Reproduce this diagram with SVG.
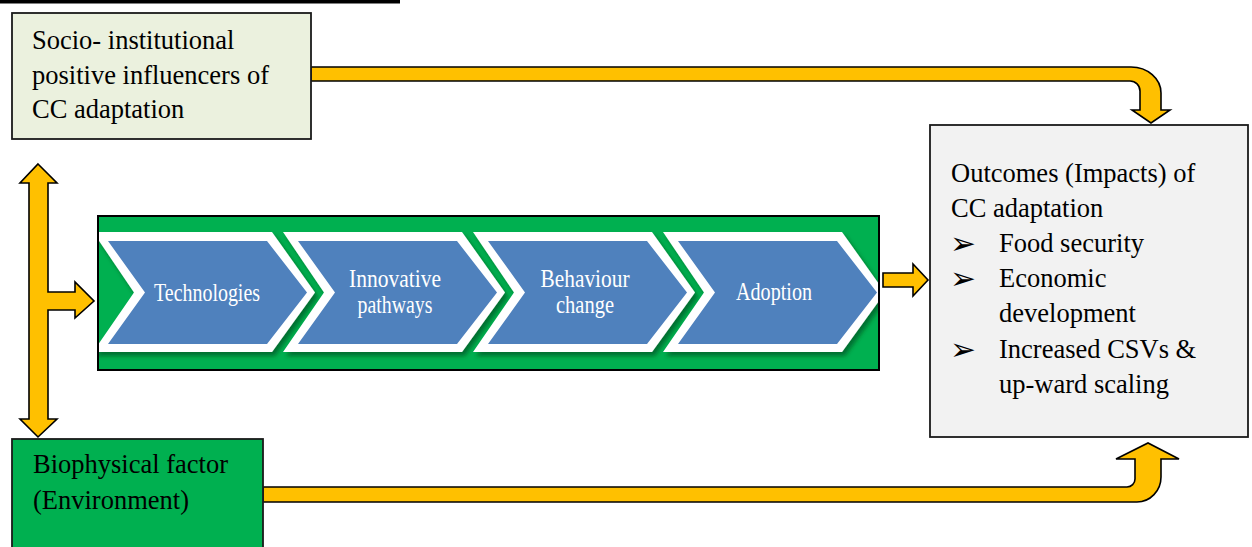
<svg xmlns="http://www.w3.org/2000/svg" width="1252" height="547" viewBox="0 0 1252 547">
  <style>
    .box { stroke: #1a1a1a; stroke-width: 1.8; }
    .lbl { font-family: 'Liberation Serif', 'DejaVu Serif', serif; font-size: 26.5px; fill: #000; }
    .bul { font-family: 'DejaVu Sans', sans-serif; font-size: 31px; fill: #000; }
    .chev-out { fill: #ffffff; }
    .chev-in { fill: #4f81bd; }
    .ctext { font-family: 'Liberation Serif', 'DejaVu Serif', serif; font-size: 25px; fill: #ffffff; text-anchor: middle; }
    .arrow { fill: #ffc000; stroke: #000; stroke-width: 1.6; stroke-linejoin: miter; }
  </style>
  <defs>
    <filter id="shadow" x="-10%" y="-10%" width="130%" height="140%">
      <feDropShadow dx="3" dy="4" stdDeviation="2" flood-color="#003a14" flood-opacity="0.55"/>
    </filter>
    <clipPath id="procClip">
      <rect x="99" y="217" width="779" height="152"/>
    </clipPath>
  </defs>

  <rect x="0" y="0" width="400" height="3.5" fill="#000"/>

  <g id="connectors">
    <path class="arrow" d="M311,67 H1131 A30,26 0 0 1 1161,93 V110 H1170 L1151,123 L1132,110 H1140 V91 A10,10 0 0 0 1130,81 H311 Z"/>
    <path class="arrow" d="M263,487 H1127 A8,8 0 0 0 1135,479 V459 H1116 L1148,443 L1179,459 H1161 V477 A24,25 0 0 1 1137,502 H263 Z"/>
    <path class="arrow" d="M38,164 L57,183 H48 V292 H75 V282 L94,301 L75,318 V310 H48 V419 H57 L38,437 L20,419 H29 V183 H20 Z"/>
    <path class="arrow" d="M883,273 H913 V264 L928,280 L913,296 V287 H883 Z"/>
  </g>

  <g id="node-socio">
    <rect class="box" x="12" y="13" width="299" height="126" fill="#ebf1de"/>
    <text class="lbl" x="32" y="49">Socio- institutional</text>
    <text class="lbl" x="32" y="84">positive influencers of</text>
    <text class="lbl" x="32" y="118">CC adaptation</text>
  </g>

  <g id="node-process">
    <rect x="98" y="216" width="781" height="154" fill="#00b050" stroke="#000" stroke-width="2"/>
    <g clip-path="url(#procClip)">
      <g id="chevron-technologies">
        <polygon class="chev-out" filter="url(#shadow)" points="93,232 272,232 315,292.5 272,352 93,352 134,292.5"/>
        <polygon class="chev-in" points="108,241 267,241 307,292.5 267,344 108,344 145,292.5"/>
        <text class="ctext" x="207" y="301" textLength="106" lengthAdjust="spacingAndGlyphs">Technologies</text>
      </g>
      <g id="chevron-innovative">
        <polygon class="chev-out" filter="url(#shadow)" points="283,232 462,232 505,292.5 462,352 283,352 324,292.5"/>
        <polygon class="chev-in" points="298,241 457,241 497,292.5 457,344 298,344 335,292.5"/>
        <text class="ctext" x="395" y="287" textLength="92" lengthAdjust="spacingAndGlyphs">Innovative</text>
        <text class="ctext" x="395" y="313" textLength="75" lengthAdjust="spacingAndGlyphs">pathways</text>
      </g>
      <g id="chevron-behaviour">
        <polygon class="chev-out" filter="url(#shadow)" points="473,232 652,232 695,292.5 652,352 473,352 514,292.5"/>
        <polygon class="chev-in" points="488,241 647,241 687,292.5 647,344 488,344 525,292.5"/>
        <text class="ctext" x="585" y="287" textLength="89" lengthAdjust="spacingAndGlyphs">Behaviour</text>
        <text class="ctext" x="585" y="313" textLength="58" lengthAdjust="spacingAndGlyphs">change</text>
      </g>
      <g id="chevron-adoption">
        <polygon class="chev-out" filter="url(#shadow)" points="663,232 842,232 885,292.5 842,352 663,352 704,292.5"/>
        <polygon class="chev-in" points="678,241 837,241 877,292.5 837,344 678,344 715,292.5"/>
        <text class="ctext" x="774" y="300" textLength="76" lengthAdjust="spacingAndGlyphs">Adoption</text>
      </g>
    </g>
    <rect x="98" y="216" width="781" height="154" fill="none" stroke="#000" stroke-width="2"/>
  </g>

  <g id="node-outcomes">
    <rect class="box" x="930" y="125" width="318" height="312" fill="#f2f2f2"/>
    <text class="lbl" x="951" y="182">Outcomes (Impacts) of</text>
    <text class="lbl" x="951" y="217">CC adaptation</text>
    <text class="bul" x="950" y="254">➢</text>
    <text class="lbl" x="999" y="252">Food security</text>
    <text class="bul" x="950" y="289">➢</text>
    <text class="lbl" x="999" y="287">Economic</text>
    <text class="lbl" x="999" y="322">development</text>
    <text class="bul" x="950" y="360">➢</text>
    <text class="lbl" x="999" y="358">Increased CSVs &amp;</text>
    <text class="lbl" x="999" y="393">up-ward scaling</text>
  </g>

  <g id="node-biophysical">
    <rect class="box" x="12" y="439" width="251" height="120" fill="#00b050"/>
    <text class="lbl" x="33" y="473">Biophysical factor</text>
    <text class="lbl" x="33" y="509">(Environment)</text>
  </g>
</svg>
